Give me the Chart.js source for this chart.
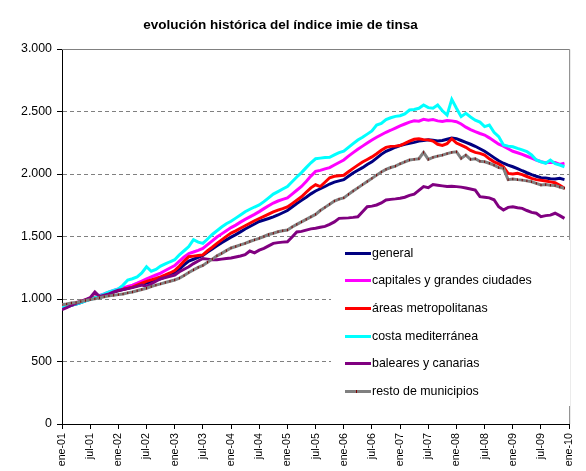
<!DOCTYPE html>
<html>
<head>
<meta charset="utf-8">
<script src="https://cdn.jsdelivr.net/npm/chart.js@4.4.1/dist/chart.umd.min.js"></script>
<style>
html,body{margin:0;padding:0;background:#fff;}
#wrap{position:relative;width:586px;height:471px;}
</style>
</head>
<body>
<div id="wrap"><canvas id="c" width="586" height="471"></canvas></div>
<script>
// ---- data ----
const chartTitle = "evolución histórica del índice imie de tinsa";
const tickLabels = ["ene-01","jul-01","ene-02","jul-02","ene-03","jul-03","ene-04","jul-04","ene-05","jul-05","ene-06","jul-06","ene-07","jul-07","ene-08","jul-08","ene-09","jul-09","ene-10"];
const seriesNames = ["general","capitales y grandes ciudades","áreas metropolitanas","costa mediterránea","baleares y canarias","resto de municipios"];
const seriesColors = ["#000080","#FF00FF","#FF0000","#00FFFF","#800080","#808080"];

const general = [
925,935,950,960,972,985,1000,1010,1020,1030,1042,1055,
1065,1075,1085,1095,1105,1117,1127,1140,1152,1162,1177,1195,
1212,1240,1273,1303,1318,1333,1348,1375,1400,1425,1450,1473,
1495,1515,1537,1560,1580,1600,1620,1632,1644,1657,1672,1690,
1708,1736,1764,1789,1814,1841,1864,1882,1900,1920,1935,1945,
1955,1982,2008,2030,2051,2076,2097,2127,2157,2182,2197,2214,
2228,2238,2245,2253,2263,2268,2273,2271,2265,2268,2278,2288,
2283,2268,2253,2238,2222,2202,2182,2157,2131,2106,2086,2071,
2058,2043,2026,2010,1995,1982,1970,1968,1962,1960,1965,1955];

const capitales = [
940,950,960,970,980,990,1000,1015,1028,1040,1055,1068,
1081,1089,1101,1111,1127,1144,1162,1177,1192,1207,1228,1248,
1268,1303,1336,1364,1376,1389,1404,1435,1465,1496,1521,1546,
1571,1591,1615,1637,1657,1677,1699,1723,1746,1768,1784,1797,
1809,1839,1870,1900,1940,1983,2021,2029,2041,2051,2072,2092,
2112,2143,2171,2198,2223,2248,2272,2294,2314,2334,2350,2367,
2385,2400,2415,2425,2423,2437,2431,2435,2425,2420,2427,2425,
2418,2400,2375,2355,2339,2324,2312,2289,2264,2238,2223,2202,
2182,2170,2157,2142,2127,2112,2098,2090,2094,2092,2077,2087];

const areas = [
935,945,958,965,980,992,1005,1015,1022,1030,1045,1058,
1070,1078,1086,1095,1111,1126,1141,1153,1164,1177,1192,1208,
1228,1263,1303,1338,1343,1348,1353,1386,1414,1445,1473,1501,
1527,1545,1566,1586,1606,1626,1644,1661,1679,1697,1711,1723,
1737,1763,1790,1818,1854,1889,1914,1899,1934,1970,1982,1986,
1990,2018,2045,2071,2096,2116,2137,2162,2190,2213,2221,2223,
2228,2245,2263,2278,2281,2275,2273,2263,2238,2228,2243,2282,
2248,2231,2213,2188,2173,2165,2151,2121,2097,2081,2058,2005,
2000,2005,1995,1980,1965,1955,1950,1944,1937,1930,1909,1885];

const costa = [
930,940,952,960,972,985,995,1010,1025,1040,1056,1069,
1081,1111,1152,1162,1177,1208,1258,1222,1237,1263,1281,1298,
1314,1354,1386,1419,1475,1455,1445,1480,1516,1546,1576,1602,
1622,1647,1672,1698,1718,1736,1752,1779,1809,1839,1859,1880,
1900,1938,1976,2011,2051,2090,2122,2127,2132,2134,2153,2171,
2183,2213,2243,2272,2294,2319,2344,2392,2405,2435,2450,2461,
2466,2481,2512,2516,2526,2552,2531,2526,2552,2506,2471,2597,
2526,2459,2485,2456,2431,2415,2379,2392,2334,2299,2232,2223,
2218,2205,2193,2179,2152,2112,2098,2086,2112,2082,2072,2058];

const baleares = [
915,930,950,965,980,995,1010,1056,1020,1030,1040,1056,
1071,1076,1083,1091,1101,1111,1101,1121,1142,1162,1172,1182,
1192,1218,1238,1258,1283,1304,1324,1319,1314,1314,1319,1324,
1328,1336,1344,1354,1384,1369,1391,1405,1425,1445,1451,1455,
1458,1496,1536,1541,1551,1561,1566,1574,1581,1597,1617,1645,
1647,1649,1653,1658,1698,1738,1743,1752,1768,1792,1797,1801,
1806,1814,1829,1839,1869,1899,1890,1915,1910,1905,1900,1902,
1899,1895,1888,1880,1871,1819,1814,1809,1794,1738,1712,1733,
1738,1730,1725,1708,1693,1686,1658,1667,1671,1686,1667,1645];

const resto = [
955,960,968,972,980,988,995,1002,1010,1018,1025,1030,
1035,1040,1049,1056,1066,1076,1086,1099,1111,1121,1132,1142,
1152,1167,1188,1212,1233,1253,1268,1294,1319,1345,1365,1387,
1408,1420,1433,1445,1460,1473,1485,1500,1516,1526,1538,1546,
1552,1576,1597,1617,1637,1657,1677,1708,1733,1758,1784,1799,
1809,1837,1864,1889,1915,1940,1965,1991,2016,2037,2052,2063,
2082,2097,2112,2117,2122,2173,2117,2133,2143,2151,2163,2173,
2178,2125,2151,2117,2122,2102,2098,2086,2071,2051,2045,1955,
1960,1955,1951,1945,1938,1925,1912,1915,1910,1908,1895,1886];

const seriesValues = [general, capitales, areas, costa, baleares, resto];

// ---- helpers ----
const FONT = '"Liberation Sans", Arial, Helvetica, sans-serif';
function fmtThousands(v){
  if (v >= 1000) { return Math.floor(v/1000) + '.' + String(v % 1000).padStart(3,'0'); }
  return String(v);
}

const datasets = seriesValues.map((vals, i) => {
  const ds = {
    label: seriesNames[i],
    data: vals.map((v, m) => ({x: m, y: v})),
    borderColor: seriesColors[i],
    backgroundColor: seriesColors[i],
    borderWidth: 3,
    pointRadius: 0,
    tension: 0,
    fill: false,
    order: seriesNames.length - 1 - i
  };
  if (i === 5) {
    ds.pointRadius = 1.2;
    ds.pointStyle = 'line';
    ds.rotation = 90;
    ds.pointBorderColor = '#800000';
    ds.pointBorderWidth = 1;
    ds.pointBackgroundColor = '#800000';
  }
  return ds;
});

const framePlugin = {
  id: 'frame',
  beforeDraw(chart){
    const c = chart.ctx;
    c.save(); c.fillStyle = '#fff'; c.fillRect(0,0,chart.width,chart.height); c.restore();
  },
  beforeDatasetsDraw(chart){
    const a = chart.chartArea, c = chart.ctx;
    c.save();
    c.strokeStyle = '#808080'; c.lineWidth = 1;
    c.beginPath();
    c.moveTo(a.left, a.top + 0.5); c.lineTo(a.right + 0.5, a.top + 0.5);
    c.lineTo(a.right + 0.5, a.bottom);
    c.stroke();
    c.restore();
  }
};

const legendPlugin = {
  id: 'boxLegend',
  afterDatasetsDraw(chart){
    const c = chart.ctx;
    c.save();
    c.fillStyle = '#fff';
    c.fillRect(331, 240, 239, 166);
    chart.data.datasets.forEach((ds, i) => {
      const y = Math.round(252.7 + i * 27.6) + 0.5;
      c.strokeStyle = ds.borderColor; c.lineWidth = 3;
      c.beginPath(); c.moveTo(345, y); c.lineTo(371, y); c.stroke();
      if (i === 5) {
        c.strokeStyle = '#800000'; c.lineWidth = 1;
        c.beginPath(); c.moveTo(356.5, y - 1.5); c.lineTo(356.5, y + 1.5); c.stroke();
      }
      c.fillStyle = '#000';
      c.font = '12.4px ' + FONT;
      c.textBaseline = 'middle';
      c.textAlign = 'left';
      c.fillText(ds.label, 372, y);
    });
    c.restore();
  }
};

const titlePlugin = {
  id: 'topTitle',
  afterDraw(chart){
    const c = chart.ctx;
    c.save();
    c.fillStyle = '#000';
    c.font = 'bold 13.5px ' + FONT;
    c.textAlign = 'center';
    c.textBaseline = 'middle';
    c.fillText(chartTitle, 280.5, 25);
    c.restore();
  }
};

new Chart(document.getElementById('c'), {
  type: 'line',
  data: { datasets },
  options: {
    responsive: false,
    devicePixelRatio: 1,
    animation: false,
    layout: { padding: { top: 49, right: 13, left: 0, bottom: 0 } },
    plugins: {
      legend: { display: false },
      title: { display: false },
      tooltip: { enabled: false }
    },
    scales: {
      x: {
        type: 'linear',
        min: 0,
        max: 108,
        afterFit(scale){ scale.height = 47; },
        border: { display: true, color: '#000', width: 1 },
        grid: { drawOnChartArea: false, drawTicks: true, tickLength: 5, tickColor: '#000', tickWidth: 1 },
        ticks: {
          stepSize: 6,
          autoSkip: false,
          maxRotation: 90,
          minRotation: 90,
          padding: 4,
          color: '#000',
          font: { family: FONT, size: 10.7 },
          callback: (v) => tickLabels[Math.round(v / 6)]
        }
      },
      y: {
        min: 0,
        max: 3000,
        afterFit(scale){ scale.width = 62; },
        border: { display: true, color: '#000', width: 1, dash: [4, 3] },
        grid: {
          color: (ctx) => (ctx.tick && (ctx.tick.value === 0 || ctx.tick.value === 3000)) ? 'rgba(0,0,0,0)' : '#808080',
          lineWidth: 1,
          drawTicks: true,
          tickLength: 5,
          tickColor: '#000',
          tickWidth: 1,
          tickBorderDash: []
        },
        ticks: {
          stepSize: 500,
          padding: 5,
          color: '#000',
          font: { family: FONT, size: 12.4 },
          callback: (v) => fmtThousands(v)
        }
      }
    }
  },
  plugins: [framePlugin, legendPlugin, titlePlugin]
});
</script>
</body>
</html>
